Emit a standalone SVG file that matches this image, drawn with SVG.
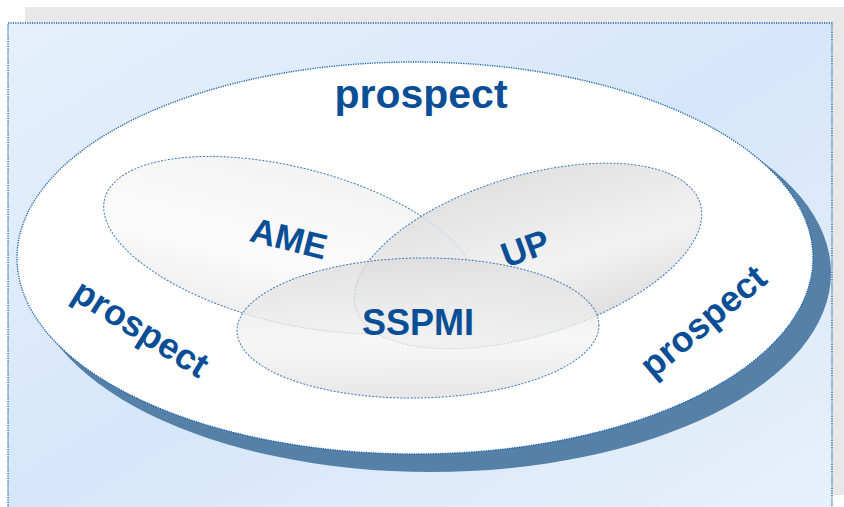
<svg xmlns="http://www.w3.org/2000/svg" width="844" height="507" viewBox="0 0 844 507">
<style>
  .lbl { font-family: "Liberation Sans", Arial, sans-serif; font-weight: bold; fill: #0A4F96; text-anchor: middle; dominant-baseline: central; }
  .dot { stroke: #1D63AD; stroke-width: 1.4; stroke-dasharray: 1.2 1.2; }
  .sub { stroke: #3E78B8; stroke-width: 1; stroke-dasharray: 2 1.5; }
</style>
<defs>
  <linearGradient id="bg" x1="0" y1="0" x2="1" y2="1">
    <stop offset="0" stop-color="#E6F0FC"/>
    <stop offset="0.5" stop-color="#D6E6FA"/>
    <stop offset="1" stop-color="#E8F0FA"/>
  </linearGradient>
  <linearGradient id="gAME" x1="0" y1="0" x2="0" y2="1">
    <stop offset="0" stop-color="#F2F2F2" stop-opacity="0.9"/>
    <stop offset="0.6" stop-color="#FAFAFA" stop-opacity="0.8"/>
    <stop offset="1" stop-color="#EDEDED" stop-opacity="0.9"/>
  </linearGradient>
  <linearGradient id="gUP" x1="0" y1="0" x2="0" y2="1">
    <stop offset="0" stop-color="#DCDCDC" stop-opacity="0.85"/>
    <stop offset="0.6" stop-color="#EFEFEF" stop-opacity="0.8"/>
    <stop offset="1" stop-color="#D8D8D8" stop-opacity="0.85"/>
  </linearGradient>
  <linearGradient id="gSS" x1="0" y1="0" x2="0" y2="1">
    <stop offset="0" stop-color="#DCDCDC" stop-opacity="0.8"/>
    <stop offset="0.6" stop-color="#F4F4F4" stop-opacity="0.75"/>
    <stop offset="1" stop-color="#E2E2E2" stop-opacity="0.85"/>
  </linearGradient>
</defs>

<g id="background">
  <rect x="25" y="7" width="819" height="488" fill="#E8E8E8"/>
  <rect x="8" y="23" width="824" height="490" fill="url(#bg)" class="dot"/>
</g>

<g id="prospect-area">
  <ellipse cx="431" cy="273" rx="400" ry="199" fill="#5580A8"/>
  <ellipse cx="415" cy="258" rx="398" ry="196" fill="#FFFFFF" class="dot"/>
  <text class="lbl" x="421" y="94" font-size="41">prospect</text>
  <text class="lbl" x="141" y="328" font-size="36" transform="rotate(32 141 328)">prospect</text>
  <text class="lbl" x="703" y="321" font-size="36" transform="rotate(-40 703 321)">prospect</text>
</g>

<g id="AME">
  <ellipse cx="289" cy="245" rx="190" ry="78" fill="url(#gAME)" class="sub" transform="rotate(14 289 245)"/>
</g>
<g id="UP">
  <ellipse cx="528" cy="256" rx="180" ry="80" fill="url(#gUP)" class="sub" transform="rotate(-17 528 256)"/>
</g>
<g id="SSPMI">
  <ellipse cx="418" cy="328" rx="181" ry="70" fill="url(#gSS)" class="sub" transform="rotate(-1 418 328)"/>
</g>

<g id="labels">
  <text class="lbl" x="289" y="238" font-size="35" transform="rotate(14 289 238)">AME</text>
  <text class="lbl" x="525" y="248" font-size="35" transform="rotate(-20 525 248)">UP</text>
  <text class="lbl" x="418" y="322" font-size="36">SSPMI</text>
</g>
</svg>
